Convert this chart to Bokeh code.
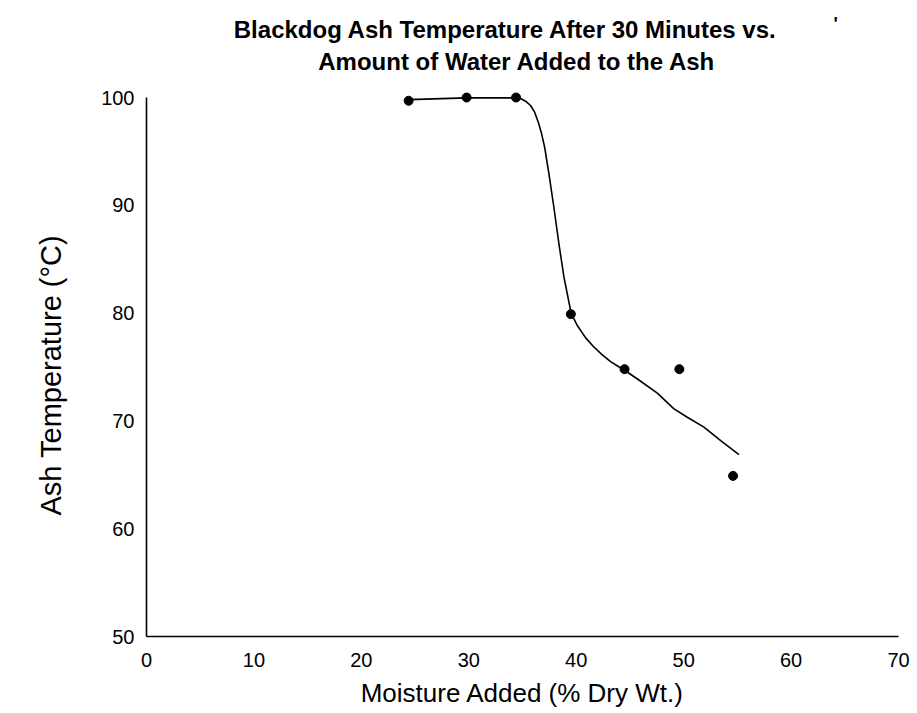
from bokeh.plotting import figure
from bokeh.models import FixedTicker, Range1d, Title
from bokeh.core.properties import value
from bokeh.embed import file_html
from bokeh.resources import INLINE

# Measured points (moisture added % dry wt, ash temperature °C)
moisture = [24.4, 29.8, 34.4, 39.5, 44.5, 49.6, 54.6]
ash_temp = [99.7, 100.0, 100.0, 79.9, 74.8, 74.8, 64.9]

# Hand-drawn smooth curve
curve_x = [24.4, 29.8, 34.36, 34.82, 35.29, 35.75, 36.13, 36.47, 36.78, 37.06, 37.31,
           37.46, 37.92, 38.39, 38.86, 39.17, 39.54, 39.79, 40.10, 40.88, 41.6, 42.4,
           43.2, 44.0, 44.51, 46.0, 47.55, 49.10, 50.34, 51.89, 53.45, 55.15]
curve_y = [99.8, 99.97, 99.97, 99.91, 99.66, 99.26, 98.64, 97.71, 96.63, 95.39, 93.85,
           92.92, 89.82, 86.43, 83.33, 81.79, 79.93, 79.47, 78.85, 77.7, 76.9, 76.15,
           75.5, 75.0, 74.7, 73.68, 72.57, 71.12, 70.34, 69.42, 68.18, 66.88]

x_ticks = [0, 10, 20, 30, 40, 50, 60, 70]
y_ticks = [50, 60, 70, 80, 90, 100]

title_lines = ["Blackdog Ash Temperature After 30 Minutes vs.",
               "Amount of Water Added to the Ash", "'"]
x_label = "Moisture Added (% Dry Wt.)"
y_label = "Ash Temperature (°C)"

FONT = "Liberation Sans"

p = figure(width=917, height=713, output_backend="svg", toolbar_location=None,
           x_range=Range1d(0, 70), y_range=Range1d(50, 109),
           min_border_left=146, min_border_right=19, min_border_top=0, min_border_bottom=77)
p.background_fill_color = "white"
p.border_fill_color = "white"
p.outline_line_color = None
p.grid.visible = False

for ax in (p.xaxis[0], p.yaxis[0]):
    ax.axis_line_color = "black"
    ax.axis_line_width = 1.6
    ax.major_tick_line_color = None
    ax.minor_tick_line_color = None
    ax.major_label_text_font = FONT
    ax.major_label_text_font_size = "20px"
    ax.major_label_text_color = "black"
    ax.axis_label_text_font = FONT
    ax.axis_label_text_font_style = "normal"
    ax.axis_label_text_color = "black"

p.xaxis[0].ticker = FixedTicker(ticks=x_ticks)
p.yaxis[0].ticker = FixedTicker(ticks=y_ticks)
p.xaxis[0].bounds = (0, 70)
p.yaxis[0].bounds = (50, 100)
p.xaxis[0].major_label_standoff = 10
p.yaxis[0].major_label_standoff = 6
p.xaxis[0].axis_label = x_label
p.xaxis[0].axis_label_text_font_size = "26px"
p.xaxis[0].axis_label_standoff = 8

# y-axis title, placed along the 50-100 part of the axis rather than the whole frame
ytitle = Title(text=y_label, align="left", offset=121, standoff=64,
               text_font=FONT, text_font_size="29px", text_font_style="normal",
               text_color="black")
p.add_layout(ytitle, "left")

p.line(curve_x, curve_y, line_color="black", line_width=1.6)
p.scatter(moisture, ash_temp, size=9, color="black")

# title block, drawn as text inside the (extended) frame above the plotted data
p.text(x=[33.43, 34.5], y=[106.31, 103.34], text=title_lines[:2],
       text_align="center", text_baseline="alphabetic",
       text_font=value(FONT), text_font_size="24px", text_font_style="bold",
       text_color="black")
p.text(x=[64.15], y=[106.8], text=title_lines[2:],
       text_align="center", text_baseline="alphabetic",
       text_font=value(FONT), text_font_size="18px", text_font_style="bold",
       text_color="black")

open("out.html", "w").write(file_html(p, INLINE))
